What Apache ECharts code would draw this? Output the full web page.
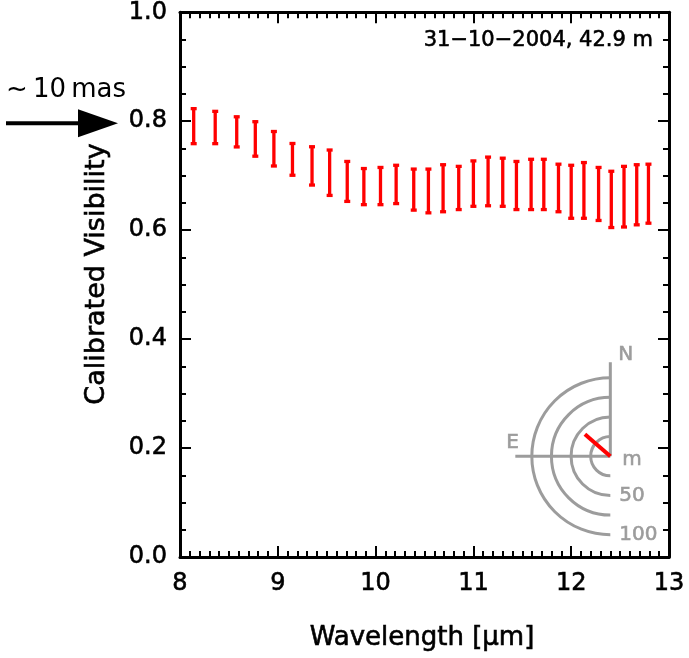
<!DOCTYPE html>
<html>
<head>
<meta charset="utf-8">
<script src="https://cdn.jsdelivr.net/npm/echarts@6/dist/echarts.min.js"></script>
<style>
  html, body { margin: 0; padding: 0; background: #fff; }
  #chart { width: 689px; height: 658px; }
</style>
</head>
<body>
<div id="chart"></div>
<script>
// wavelengths (um) and visibility error ranges
const wavelength = [8.14, 8.36, 8.58, 8.77, 8.96, 9.15, 9.35, 9.53, 9.71, 9.88,
  10.05, 10.21, 10.39, 10.54, 10.69, 10.85, 11.00, 11.15, 11.30, 11.44,
  11.59, 11.72, 11.87, 12.00, 12.13, 12.28, 12.41, 12.54, 12.67, 12.79];
const visHigh = [0.825, 0.820, 0.810, 0.801, 0.783, 0.761, 0.755, 0.749, 0.728, 0.715,
  0.717, 0.721, 0.714, 0.714, 0.722, 0.719, 0.729, 0.736, 0.734, 0.728,
  0.732, 0.732, 0.723, 0.721, 0.726, 0.717, 0.710, 0.719, 0.722, 0.723];
const visLow = [0.757, 0.757, 0.751, 0.734, 0.716, 0.699, 0.681, 0.662, 0.651, 0.645,
  0.645, 0.647, 0.635, 0.630, 0.632, 0.636, 0.642, 0.643, 0.642, 0.636,
  0.636, 0.636, 0.632, 0.620, 0.620, 0.616, 0.603, 0.604, 0.608, 0.611];

const dateLabel = '31−10−2004, 42.9 m';

// baseline inset (metres, position angle in degrees from N through E)
const baselineLen = 42.9;
const baselinePA = 49;
const ringRadii = [25, 50, 75, 100];
const ringLabels = ['', '50', '', '100'];
const insetCenter = [12.4, 0.185]; // data coords of the inset origin

const chart = echarts.init(document.getElementById('chart'));
const FONT = 'DejaVu Sans';

let errData = wavelength.map((w, i) => [w, visLow[i], visHigh[i]]);

function makeAxis(type, pos, min, max, interval, minorSplit, showLabel, margin) {
  return {
    type: type, position: pos, min: min, max: max, interval: interval,
    axisLine: { show: true, onZero: false, lineStyle: { color: '#000', width: 3 } },
    axisTick: { show: true, inside: true, length: 11, lineStyle: { color: '#000', width: 2 } },
    minorTick: { show: true, splitNumber: minorSplit, length: 6, lineStyle: { color: '#000', width: 2 } },
    splitLine: { show: false },
    axisLabel: {
      show: showLabel, color: '#000', fontFamily: FONT, fontSize: 24, margin: margin,
      textBorderColor: '#000', textBorderWidth: 0.6,
      formatter: pos === 'left' ? (v => v.toFixed(1)) : null
    }
  };
}

let option = {
  animation: false,
  backgroundColor: '#fff',
  grid: { left: 180, right: 20, top: 12, bottom: 101 },
  xAxis: [
    makeAxis('value', 'bottom', 8, 13, 1, 10, true, 15),
    makeAxis('value', 'top', 8, 13, 1, 10, false, 8)
  ],
  yAxis: [
    makeAxis('value', 'left', 0, 1, 0.2, 4, true, 13),
    makeAxis('value', 'right', 0, 1, 0.2, 4, false, 8)
  ],
  series: [{
    type: 'custom',
    data: errData,
    renderItem: function (params, api) {
      const top = api.coord([api.value(0), api.value(2)]);
      const bot = api.coord([api.value(0), api.value(1)]);
      const cap = 3;
      const st = { stroke: '#ff0000', lineWidth: 3.3 };
      return {
        type: 'group',
        children: [
          { type: 'line', shape: { x1: top[0], y1: top[1], x2: bot[0], y2: bot[1] }, style: st },
          { type: 'line', shape: { x1: top[0] - cap, y1: top[1] + 1, x2: top[0] + cap, y2: top[1] + 1 }, style: st },
          { type: 'line', shape: { x1: bot[0] - cap, y1: bot[1] - 1, x2: bot[0] + cap, y2: bot[1] - 1 }, style: st }
        ]
      };
    }
  }]
};
chart.setOption(option);

// inset and annotations, placed from the grid
const c = chart.convertToPixel({ gridIndex: 0 }, insetCenter);
const cx = c[0], cy = c[1];
const pxPerM = 0.785;
const grey = '#9c9c9c';
const gfx = [];

function txt(x, y, s, size, color, align, extra) {
  return Object.assign({
    type: 'text', x: x, y: y,
    style: {
      text: s, fill: color, font: size + 'px ' + FONT, textAlign: align || 'left',
      textVerticalAlign: 'middle', stroke: color, lineWidth: 0.6
    }
  }, extra || {});
}

ringRadii.forEach((r, i) => {
  gfx.push({
    type: 'arc',
    shape: { cx: cx, cy: cy, r: r * pxPerM, startAngle: -Math.PI / 2, endAngle: Math.PI / 2, clockwise: false },
    style: { stroke: grey, fill: null, lineWidth: 3 }
  });
  if (ringLabels[i]) gfx.push(txt(cx + 9, cy + r * pxPerM, ringLabels[i], 20, grey));
});
gfx.push({ type: 'line', shape: { x1: cx, y1: cy, x2: cx, y2: cy - 94 }, style: { stroke: grey, lineWidth: 3 } });
gfx.push({ type: 'line', shape: { x1: cx, y1: cy, x2: cx - 95, y2: cy }, style: { stroke: grey, lineWidth: 3 } });
gfx.push(txt(cx + 8, cy - 101, 'N', 20, grey));
gfx.push(txt(cx - 104, cy - 13, 'E', 20, grey));
gfx.push(txt(cx + 12, cy + 4, 'm', 20, grey));
const pa = baselinePA * Math.PI / 180;
const L = baselineLen * pxPerM;
gfx.push({
  type: 'line',
  shape: { x1: cx, y1: cy, x2: cx - L * Math.sin(pa), y2: cy - L * Math.cos(pa) },
  style: { stroke: '#ff0000', lineWidth: 4 }
});

// date / baseline label
gfx.push(txt(653, 41, dateLabel, 21, '#000', 'right'));

// axis titles
gfx.push(txt(422, 638, 'Wavelength [μm]', 26, '#000', 'center'));
gfx.push(txt(97, 274, 'Calibrated Visibility', 27, '#000', 'center', { rotation: Math.PI / 2 }));

// arrow marking ~10 mas
const a = chart.convertToPixel({ yAxisIndex: 0 }, 0.8);
gfx.push({ type: 'line', shape: { x1: 6, y1: a + 2, x2: 82, y2: a + 2 }, style: { stroke: '#000', lineWidth: 4 } });
gfx.push({ type: 'polygon', shape: { points: [[78, a - 12], [118, a + 2], [78, a + 16]] }, style: { fill: '#000' } });
gfx.push({ type: 'text', x: 6, y: 90, style: { text: '~\u200910\u2009mas', fill: '#000', font: '26px ' + FONT, textVerticalAlign: 'middle' } });

chart.setOption({ graphic: gfx });
</script>
</body>
</html>
